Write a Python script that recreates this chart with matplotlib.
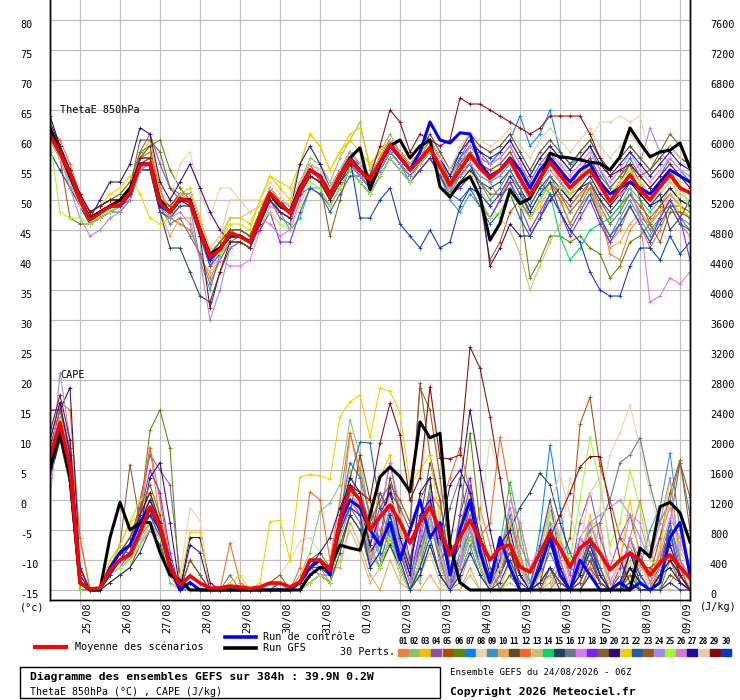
import numpy as np
import matplotlib
matplotlib.use("Agg")
import matplotlib.pyplot as plt
from matplotlib.lines import Line2D
from matplotlib.patches import Rectangle

plt.rcParams['font.family'] = ['DejaVu Sans Mono', 'DejaVu Sans']

# echeances GEFS (h) depuis le 24/08 06Z
hours = np.arange(0, 385, 6)
day_labels = ["25/08", "26/08", "27/08", "28/08", "29/08", "30/08", "31/08", "01/09",
              "02/09", "03/09", "04/09", "05/09", "06/09", "07/09", "08/09", "09/09"]
theta_ticks = list(range(-15, 81, 5))
cape_ticks = list(range(0, 7601, 400))

# ThetaE 850hPa (degC) - moyenne, controle, GFS
theta_mean = [60.8, 57.8, 54.5, 50.0, 46.7, 47.8, 48.9, 49.2, 51.2, 55.8, 56.1, 49.4, 48.0, 50.3, 49.7, 45.0, 40.5, 41.7, 44.5, 43.9, 43.0, 47.2, 51.2, 49.4, 47.8, 51.7, 55.0, 53.9, 50.8, 54.2, 56.7, 54.8, 53.4, 56.3, 59.2, 57.2, 55.0, 56.7, 58.7, 55.5, 52.5, 55.0, 57.5, 55.3, 53.6, 55.0, 56.7, 53.6, 50.8, 53.6, 56.3, 54.2, 52.0, 53.6, 55.0, 52.5, 49.7, 52.0, 54.2, 51.7, 50.0, 52.2, 54.2, 52.0, 51.2]
theta_control = [61, 58, 54, 50, 47, 48, 49, 49, 51, 56, 56, 49, 48, 50, 50, 45, 40, 42, 44, 44, 43, 47, 51, 49, 48, 52, 55, 54, 51, 54, 57, 55, 53, 56, 59, 57, 55, 58, 63, 60, 59.5, 61.2, 61, 56, 54, 55, 57, 55, 52, 55, 57, 55, 53, 55, 56, 53, 51, 52, 53, 52, 51, 53, 55, 54, 53]
theta_gfs = [62, 58, 54, 50, 47, 48, 49, 50, 52, 56, 56, 50, 48, 50, 50, 45, 41, 42, 44, 44, 43, 47, 51, 49, 48, 52, 55, 54, 51, 54, 57, 58.7, 51.7, 56, 59, 60, 57, 59, 60, 52.2, 50.5, 52.8, 53.9, 50.5, 43.3, 46.1, 51.7, 49.4, 50.3, 53.3, 57.8, 57.2, 57, 56.7, 56.3, 56.1, 55, 57.2, 62, 59.5, 57.2, 58, 58.3, 59.5, 55.3]

# ThetaE des 30 perturbations
th01 = [62, 59, 55, 51, 48, 49, 50, 50, 52, 57, 57, 50, 49, 51, 50, 44, 39, 42, 45, 45, 44, 48, 52, 50, 49, 53, 56, 55, 52, 55, 58, 56, 54, 57, 60, 57, 56, 58, 60, 57, 53, 56, 58, 56, 55, 56, 58, 55, 52, 55, 57, 53, 51, 52, 53, 48, 41, 40, 45, 47, 46, 49, 52, 50, 49]
th02 = [60, 57, 54, 50, 47, 48, 49, 50, 52, 57, 58, 51, 49, 51, 51, 46, 41, 43, 45, 45, 44, 48, 52, 50, 49, 53, 57, 56, 53, 57, 60, 63, 55, 58, 61, 58, 56, 58, 60, 57, 53, 57, 59, 57, 56, 58, 60, 57, 54, 57, 59, 57, 55, 58, 60, 57, 55, 57, 59, 57, 55, 57, 59, 57, 56]
th03 = [61, 58, 55, 51, 48, 49, 50, 51, 53, 57, 60, 52, 47, 51, 52, 47, 42, 44, 47, 47, 46, 50, 54, 52, 50, 56, 61, 59, 55, 58, 60, 58, 56, 58, 60, 58, 57, 59, 60, 57, 54, 52, 54, 50, 47, 50, 53, 50, 47, 49, 52, 50, 48, 50, 52, 48, 46, 48, 51, 48, 46, 48, 50, 48, 47]
th04 = [61, 58, 54, 50, 47, 48, 49, 49, 51, 58, 61, 56, 52, 51, 51, 46, 41, 43, 45, 45, 44, 48, 50, 47, 46, 51, 54, 53, 50, 53, 56, 54, 52, 55, 58, 56, 54, 56, 58, 55, 51, 57, 60, 58, 56, 57, 59, 56, 53, 56, 58, 55, 52, 55, 57, 53, 50, 53, 56, 53, 50, 53, 55, 52, 51]
th05 = [60, 57, 53, 49, 46, 47, 48, 49, 50, 55, 55, 48, 47, 49, 49, 44, 40, 42, 44, 44, 43, 47, 51, 49, 48, 52, 55, 54, 51, 54, 57, 55, 53, 56, 59, 57, 55, 57, 59, 56, 51, 53, 54, 50, 40, 43, 48, 50, 47, 50, 53, 51, 49, 51, 53, 50, 47, 49, 51, 49, 47, 49, 51, 49, 48]
th06 = [61, 58, 55, 51, 48, 49, 50, 51, 53, 58, 59, 60, 55, 52, 50, 45, 41, 43, 45, 44, 43, 47, 50, 48, 47, 51, 54, 53, 50, 53, 56, 54, 52, 55, 58, 56, 54, 56, 58, 55, 51, 53, 55, 53, 51, 51, 52, 49, 37, 40, 44, 44, 43, 44, 42, 41, 37, 39, 43, 44, 46, 48, 49, 49, 47]
th07 = [61, 58, 54, 50, 47, 48, 49, 49, 51, 56, 57, 50, 48, 50, 50, 45, 41, 42, 44, 44, 43, 47, 52, 50, 48, 53, 56, 55, 52, 55, 58, 56, 54, 57, 60, 58, 56, 58, 60, 57, 54, 57, 59, 57, 56, 58, 60, 64, 59, 61, 65, 58, 56, 57, 59, 55, 52, 54, 57, 54, 52, 54, 57, 55, 53]
th08 = [60, 57, 54, 50, 47, 48, 49, 50, 52, 57, 57, 51, 50, 56, 58, 51, 47, 52, 52, 50, 50, 50, 53, 51, 49, 53, 56, 55, 52, 55, 58, 56, 54, 57, 60, 58, 56, 58, 60, 57, 53, 56, 58, 56, 55, 56, 58, 55, 52, 55, 57, 56, 55, 57, 60, 63, 63, 64, 63, 64, 57, 56, 57, 55, 54]
th09 = [62, 59, 55, 50, 46, 47, 48, 49, 51, 55, 56, 49, 48, 50, 49, 40, 35, 41, 43, 43, 42, 46, 50, 48, 47, 51, 54, 53, 50, 53, 56, 54, 52, 55, 58, 56, 53, 55, 57, 54, 50, 48, 51, 49, 47, 50, 53, 50, 47, 50, 53, 50, 46, 49, 51, 47, 44, 47, 50, 47, 44, 47, 50, 47, 46]
th10 = [60, 57, 53, 49, 46, 47, 48, 49, 51, 55, 55, 48, 44, 47, 47, 40, 38, 40, 43, 43, 42, 46, 50, 48, 47, 51, 54, 53, 50, 53, 56, 54, 52, 55, 58, 56, 54, 56, 58, 55, 52, 55, 57, 55, 54, 55, 57, 54, 51, 54, 56, 53, 50, 51, 52, 48, 42, 43, 46, 48, 46, 48, 51, 49, 47]
th11 = [61, 58, 54, 50, 47, 48, 49, 49, 51, 57, 59, 50, 49, 51, 51, 46, 41, 43, 45, 45, 44, 48, 52, 50, 48, 52, 55, 54, 51, 54, 57, 56, 54, 57, 60, 58, 56, 58, 61, 58, 55, 58, 61, 59, 58, 59, 61, 58, 55, 58, 60, 58, 56, 58, 60, 57, 55, 57, 59, 57, 55, 57, 59, 57, 56]
th12 = [62, 60, 56, 51, 48, 49, 50, 50, 52, 57, 58, 52, 47, 46, 45, 41, 37, 40, 43, 43, 42, 46, 50, 48, 47, 51, 54, 53, 50, 53, 56, 54, 53, 56, 59, 57, 55, 57, 60, 57, 53, 56, 59, 57, 53, 50, 54, 52, 47, 50, 53, 50, 46, 49, 52, 47, 43, 45, 49, 46, 42, 45, 49, 46, 44]
th13 = [61, 58, 54, 50, 47, 48, 49, 49, 51, 56, 56, 49, 48, 50, 50, 45, 40, 43, 47, 47, 48, 49, 51, 49, 48, 52, 55, 54, 51, 54, 57, 55, 53, 56, 59, 57, 55, 57, 59, 56, 52, 54, 55, 52, 49, 47, 45, 41, 35, 39, 43, 46, 48, 50, 53, 51, 49, 51, 53, 51, 49, 51, 53, 51, 50]
th14 = [60, 57, 53, 49, 47, 48, 49, 49, 51, 56, 57, 50, 48, 50, 50, 45, 41, 43, 45, 45, 44, 48, 51, 48, 45, 47, 52, 52, 49, 52, 55, 53, 51, 54, 57, 55, 53, 55, 57, 54, 51, 54, 56, 54, 53, 54, 56, 53, 50, 53, 51, 44, 40, 42, 45, 46, 47, 49, 52, 50, 48, 50, 52, 50, 49]
th15 = [58, 55, 52, 49, 46, 47, 48, 49, 51, 55, 55, 48, 42, 42, 38, 34, 33, 38, 42, 43, 42, 46, 50, 48, 47, 51, 54, 53, 50, 53, 55, 53, 51, 54, 57, 55, 53, 55, 57, 54, 51, 53, 55, 53, 52, 53, 55, 52, 49, 52, 54, 52, 50, 52, 53, 50, 48, 50, 53, 51, 49, 51, 45, 47, 50]
th16 = [61, 58, 54, 50, 47, 48, 49, 50, 52, 56, 56, 49, 46, 47, 44, 41, 36, 40, 43, 44, 43, 47, 51, 49, 48, 52, 55, 54, 52, 55, 57, 55, 53, 56, 59, 57, 55, 57, 59, 56, 53, 55, 56, 53, 50, 52, 55, 52, 48, 51, 54, 51, 48, 50, 53, 49, 46, 48, 51, 48, 45, 47, 50, 47, 45]
th17 = [61, 58, 54, 50, 47, 48, 49, 49, 51, 56, 56, 49, 48, 50, 49, 44, 39, 40, 39, 39, 40, 45, 49, 48, 47, 51, 54, 53, 50, 53, 56, 54, 52, 55, 58, 56, 54, 56, 58, 55, 52, 56, 59, 57, 56, 57, 59, 56, 52, 55, 58, 56, 54, 56, 58, 55, 53, 55, 58, 55, 53, 55, 57, 55, 54]
th18 = [61, 58, 54, 50, 47, 48, 49, 49, 51, 56, 56, 49, 48, 50, 50, 45, 41, 42, 44, 44, 43, 45, 48, 43, 43, 48, 52, 51, 49, 52, 55, 53, 51, 54, 57, 55, 53, 55, 57, 54, 51, 52, 54, 50, 47, 50, 53, 49, 45, 48, 51, 48, 44, 47, 50, 46, 43, 46, 49, 46, 43, 47, 50, 47, 40]
th19 = [60, 57, 54, 50, 47, 48, 49, 50, 52, 60, 60, 58, 52, 50, 50, 45, 40, 42, 44, 44, 43, 47, 51, 49, 48, 52, 55, 54, 51, 54, 57, 55, 53, 56, 59, 57, 55, 57, 59, 56, 52, 55, 57, 55, 54, 55, 57, 54, 51, 54, 56, 54, 52, 54, 56, 53, 51, 53, 56, 54, 55, 58, 61, 59, 56]
th20 = [64, 59, 55, 50, 47, 50, 53, 53, 56, 62, 61, 53, 50, 53, 56, 52, 48, 45, 43, 43, 42, 46, 50, 48, 47, 51, 54, 53, 50, 53, 56, 54, 52, 55, 58, 56, 54, 56, 58, 55, 52, 54, 56, 52, 39, 42, 46, 44, 44, 47, 50, 52, 50, 52, 54, 51, 49, 51, 53, 51, 49, 50, 52, 50, 49]
th21 = [61, 58, 54, 51, 48, 49, 51, 52, 54, 51, 47, 46, 47, 50, 50, 45, 41, 43, 46, 46, 45, 50, 54, 53, 52, 56, 61, 59, 55, 58, 61, 62, 56, 58, 60, 58, 56, 58, 60, 57, 53, 55, 57, 55, 54, 55, 57, 54, 51, 54, 56, 54, 52, 54, 56, 53, 51, 53, 55, 53, 51, 53, 55, 49, 47]
th22 = [60, 57, 53, 49, 46, 47, 48, 48, 50, 55, 55, 48, 47, 49, 49, 44, 39, 41, 43, 43, 42, 46, 50, 48, 47, 51, 52, 51, 48, 51, 54, 54, 52, 55, 58, 56, 54, 56, 58, 55, 51, 50, 52, 49, 46, 48, 51, 47, 44, 47, 51, 48, 45, 48, 51, 47, 44, 46, 49, 46, 43, 46, 49, 46, 45]
th23 = [61, 57, 47, 46, 46, 47, 48, 49, 51, 56, 57, 50, 49, 51, 51, 46, 41, 43, 45, 45, 44, 48, 52, 50, 49, 53, 56, 53, 44, 50, 56, 56, 54, 57, 60, 58, 56, 58, 60, 57, 53, 56, 58, 56, 55, 56, 58, 55, 52, 55, 57, 55, 53, 55, 57, 54, 52, 54, 56, 50, 46, 43, 48, 48, 47]
th24 = [61, 57, 52, 47, 44, 45, 47, 48, 50, 55, 56, 49, 47, 48, 46, 40, 30, 35, 42, 43, 42, 46, 50, 48, 47, 51, 54, 53, 50, 53, 56, 54, 52, 55, 58, 56, 54, 56, 58, 55, 52, 54, 56, 54, 53, 54, 56, 53, 50, 53, 55, 53, 51, 53, 55, 52, 50, 52, 54, 56, 62, 58, 56, 54, 52]
th25 = [60, 48, 47, 47, 46, 47, 48, 49, 51, 56, 56, 49, 48, 50, 50, 45, 41, 41, 43, 43, 42, 46, 48, 46, 45, 49, 53, 52, 49, 52, 55, 53, 51, 54, 57, 55, 53, 56, 58, 55, 51, 53, 54, 50, 47, 48, 51, 49, 47, 50, 53, 52, 51, 53, 56, 53, 51, 53, 55, 53, 51, 53, 55, 53, 48]
th26 = [61, 58, 54, 50, 47, 48, 49, 49, 51, 56, 56, 49, 48, 50, 50, 45, 41, 42, 44, 44, 43, 47, 46, 44, 45, 50, 55, 54, 51, 54, 57, 55, 53, 56, 59, 57, 55, 57, 59, 56, 52, 55, 57, 55, 54, 55, 57, 54, 51, 54, 56, 54, 52, 54, 55, 52, 50, 51, 52, 47, 33, 34, 37, 36, 38]
th27 = [63, 59, 55, 51, 48, 49, 50, 50, 52, 57, 57, 50, 48, 50, 50, 45, 40, 42, 44, 44, 43, 47, 51, 49, 48, 56, 59, 56, 52, 55, 58, 56, 54, 57, 60, 58, 56, 58, 60, 57, 54, 58, 60, 58, 57, 58, 60, 57, 54, 57, 59, 57, 55, 57, 59, 56, 54, 56, 58, 56, 54, 56, 58, 56, 55]
th28 = [60, 57, 53, 49, 47, 48, 49, 50, 52, 57, 57, 50, 48, 51, 51, 46, 42, 44, 50, 50, 48, 49, 52, 50, 49, 53, 56, 55, 52, 55, 58, 56, 54, 57, 60, 58, 56, 58, 60, 57, 55, 59, 61, 60, 59, 60, 62, 59, 57, 60, 62, 60, 58, 60, 62, 59, 57, 59, 61, 59, 57, 58, 59, 57, 55]
th29 = [62, 59, 55, 51, 48, 49, 50, 50, 52, 57, 57, 50, 48, 50, 49, 44, 32, 38, 43, 43, 42, 46, 50, 48, 47, 51, 54, 53, 50, 53, 56, 55, 54, 59, 65, 63, 58, 61, 60, 59, 60, 67, 66, 66, 65, 64, 63, 62, 61, 62, 64, 64, 64, 64, 61, 57, 54, 55, 56, 54, 52, 54, 56, 54, 52]
th30 = [61, 58, 54, 50, 47, 48, 49, 49, 51, 56, 56, 49, 48, 50, 50, 45, 40, 42, 44, 44, 43, 47, 51, 49, 48, 52, 55, 54, 51, 54, 57, 47, 47, 50, 52, 46, 44, 42, 45, 42, 43, 49, 52, 51, 49, 51, 54, 51, 48, 51, 53, 48, 45, 43, 38, 35, 34, 34, 39, 42, 42, 40, 44, 41, 43]

# CAPE (J/kg) - moyenne, controle, GFS
cape_mean = [1773, 2227, 1640, 93, 13, 27, 267, 400, 467, 760, 1107, 840, 307, 67, 187, 93, 27, 27, 53, 40, 20, 40, 93, 93, 40, 107, 400, 400, 267, 933, 1360, 1200, 800, 973, 1133, 907, 627, 907, 1107, 800, 467, 707, 933, 667, 400, 560, 600, 307, 240, 493, 760, 560, 307, 560, 667, 493, 267, 400, 493, 400, 200, 360, 467, 307, 160]
cape_control = [1700, 2200, 1500, 100, 0, 0, 300, 500, 600, 900, 1100, 800, 300, 0, 100, 0, 0, 0, 0, 0, 0, 0, 0, 0, 0, 100, 300, 400, 200, 900, 1200, 1100, 800, 600, 900, 400, 800, 1200, 700, 900, 200, 800, 1200, 500, 100, 700, 300, 0, 0, 300, 700, 200, 0, 400, 200, 0, 0, 100, 0, 100, 0, 100, 700, 900, 200]
cape_gfs = [1600, 2100, 1500, 100, 0, 0, 700, 1170, 800, 900, 900, 500, 200, 130, 0, 0, 0, 0, 0, 0, 0, 0, 0, 0, 0, 0, 200, 300, 300, 600, 560, 530, 1000, 1510, 1640, 1510, 1310, 2240, 2030, 2090, 600, 100, 0, 0, 0, 0, 0, 0, 0, 0, 0, 0, 0, 0, 0, 0, 0, 0, 0, 560, 440, 1110, 1170, 1030, 640]

# CAPE des 30 perturbations
cp01 = [1900, 2400, 2000, 700, 0, 0, 200, 500, 700, 900, 1900, 900, 200, 0, 100, 0, 0, 0, 0, 0, 0, 0, 0, 0, 0, 100, 200, 300, 100, 800, 2100, 1500, 600, 300, 900, 400, 0, 300, 1200, 600, 0, 100, 500, 1100, 600, 0, 200, 900, 300, 0, 0, 400, 0, 0, 300, 900, 100, 0, 700, 1200, 600, 0, 100, 300, 0]
cp02 = [1600, 2300, 1500, 0, 0, 0, 300, 400, 600, 1100, 1300, 700, 100, 0, 100, 0, 0, 0, 0, 0, 0, 0, 100, 0, 0, 200, 500, 1050, 1160, 1400, 2270, 1800, 900, 700, 1300, 800, 300, 100, 900, 400, 0, 300, 1000, 400, 0, 0, 200, 0, 0, 0, 100, 300, 0, 200, 800, 300, 0, 0, 100, 0, 0, 200, 600, 200, 0]
cp03 = [1800, 2200, 1700, 200, 0, 0, 400, 600, 900, 1000, 1200, 800, 300, 0, 200, 100, 0, 0, 0, 0, 0, 0, 0, 100, 0, 0, 200, 300, 200, 1000, 1600, 1100, 500, 1500, 1800, 900, 200, 600, 1000, 300, 0, 900, 1300, 500, 0, 0, 400, 0, 0, 200, 800, 200, 0, 300, 500, 100, 0, 0, 400, 0, 0, 600, 1200, 400, 100]
cp04 = [1700, 2100, 1900, 300, 0, 0, 200, 300, 500, 1200, 1800, 1600, 1400, 200, 0, 0, 0, 0, 0, 0, 0, 0, 0, 0, 0, 0, 300, 200, 100, 700, 1100, 900, 300, 1000, 1700, 1000, 400, 1200, 1500, 400, 100, 800, 1400, 600, 100, 500, 1000, 400, 100, 500, 1100, 600, 200, 900, 1300, 700, 300, 700, 1000, 500, 100, 300, 900, 400, 100]
cp05 = [1500, 2000, 1600, 0, 0, 0, 100, 200, 300, 600, 900, 700, 200, 0, 100, 0, 0, 0, 0, 0, 0, 0, 0, 0, 0, 0, 100, 200, 100, 700, 1200, 1000, 500, 300, 700, 300, 0, 200, 600, 200, 0, 300, 700, 300, 0, 200, 500, 200, 0, 100, 200, 400, 700, 2210, 2570, 1650, 1200, 700, 500, 300, 300, 400, 900, 1700, 1240]
cp06 = [1800, 2300, 1500, 0, 0, 0, 200, 400, 600, 1000, 2130, 2400, 1890, 0, 0, 0, 0, 0, 0, 0, 0, 0, 0, 0, 0, 0, 100, 200, 200, 600, 1000, 800, 300, 500, 1100, 700, 200, 600, 1400, 700, 200, 1000, 2090, 900, 300, 0, 200, 0, 0, 0, 300, 100, 0, 0, 200, 0, 0, 0, 300, 0, 0, 0, 400, 100, 0]
cp07 = [1600, 2200, 1400, 0, 0, 0, 300, 500, 500, 800, 1000, 700, 300, 0, 200, 100, 0, 0, 0, 0, 0, 0, 100, 100, 0, 100, 300, 400, 300, 1000, 1700, 1500, 1000, 600, 900, 500, 100, 500, 900, 400, 0, 400, 800, 300, 0, 300, 800, 200, 0, 800, 1930, 1100, 300, 200, 600, 300, 0, 0, 500, 200, 0, 200, 900, 300, 0]
cp08 = [1700, 2200, 1600, 100, 0, 0, 300, 400, 500, 700, 1000, 700, 300, 200, 1090, 930, 0, 0, 0, 0, 0, 0, 100, 200, 400, 650, 700, 500, 300, 800, 1200, 1000, 700, 1100, 1300, 1200, 900, 1200, 2750, 1400, 700, 900, 1000, 900, 2010, 1500, 600, 400, 300, 200, 0, 600, 1500, 1000, 700, 1100, 1800, 2100, 2470, 1900, 1300, 800, 500, 300, 200]
cp09 = [1900, 2400, 1800, 200, 0, 0, 300, 500, 600, 900, 1100, 800, 300, 0, 100, 0, 0, 0, 0, 0, 0, 0, 0, 0, 0, 100, 400, 300, 200, 900, 1400, 1300, 900, 400, 800, 300, 0, 400, 1000, 500, 0, 200, 600, 200, 0, 400, 1000, 400, 0, 300, 900, 300, 0, 100, 500, 100, 0, 200, 700, 300, 800, 1100, 1830, 800, 300]
cp10 = [1700, 2100, 1600, 100, 0, 0, 200, 300, 400, 700, 1000, 800, 200, 0, 100, 0, 0, 0, 0, 0, 0, 0, 100, 0, 0, 100, 400, 500, 300, 300, 900, 600, 200, 0, 400, 100, 0, 0, 200, 0, 0, 0, 300, 0, 0, 0, 0, 0, 0, 0, 200, 0, 0, 0, 0, 0, 0, 0, 0, 0, 0, 0, 100, 0, 0]
cp11 = [1800, 2300, 1700, 100, 0, 0, 300, 500, 700, 1000, 1300, 900, 300, 0, 400, 200, 0, 0, 0, 0, 0, 0, 0, 100, 0, 100, 300, 300, 200, 600, 1000, 1800, 1200, 600, 1500, 1000, 400, 900, 1700, 1200, 300, 600, 1100, 700, 100, 300, 900, 400, 0, 100, 600, 300, 0, 0, 300, 100, 0, 100, 300, 100, 0, 0, 200, 100, 0]
cp12 = [2000, 2500, 2400, 700, 0, 0, 200, 400, 600, 1100, 1900, 1200, 400, 0, 200, 100, 0, 0, 630, 100, 0, 0, 0, 0, 0, 300, 1310, 1200, 400, 1200, 2100, 1600, 1000, 800, 600, 300, 0, 400, 1300, 1100, 1500, 1900, 1300, 700, 900, 2040, 1300, 600, 300, 0, 0, 200, 0, 0, 300, 0, 0, 0, 200, 0, 0, 300, 700, 300, 0]
cp13 = [1600, 2100, 1500, 0, 0, 0, 200, 300, 400, 600, 800, 600, 200, 0, 100, 0, 0, 0, 0, 0, 0, 0, 0, 0, 0, 0, 100, 200, 100, 400, 800, 500, 100, 300, 600, 200, 0, 200, 500, 100, 0, 0, 200, 0, 0, 0, 100, 0, 0, 0, 0, 0, 0, 0, 200, 0, 0, 0, 0, 0, 0, 0, 0, 0, 0]
cp14 = [1800, 2200, 1700, 100, 0, 0, 300, 400, 500, 900, 1200, 900, 300, 0, 100, 0, 0, 0, 0, 0, 0, 0, 100, 100, 0, 100, 400, 500, 300, 1000, 1400, 1200, 800, 500, 1000, 600, 200, 700, 1200, 500, 0, 400, 900, 500, 100, 600, 1440, 800, 100, 300, 700, 300, 0, 200, 500, 200, 0, 0, 300, 0, 0, 300, 500, 200, 0]
cp15 = [1500, 2000, 1400, 0, 0, 0, 100, 200, 300, 500, 800, 600, 200, 0, 0, 0, 0, 0, 0, 0, 0, 0, 0, 0, 0, 0, 100, 200, 100, 500, 1000, 800, 500, 300, 600, 300, 0, 200, 600, 200, 0, 300, 700, 300, 0, 400, 800, 1100, 1300, 1560, 1400, 900, 500, 200, 500, 200, 0, 0, 300, 100, 0, 200, 400, 200, 0]
cp16 = [1700, 2200, 1600, 100, 0, 0, 200, 400, 500, 800, 1000, 800, 300, 0, 100, 0, 0, 0, 200, 0, 0, 0, 0, 0, 0, 100, 300, 400, 200, 800, 1200, 1100, 500, 300, 700, 300, 0, 300, 900, 600, 1100, 1500, 800, 400, 100, 300, 700, 300, 0, 200, 500, 200, 0, 500, 800, 900, 1200, 1700, 1800, 2030, 1400, 900, 1200, 1700, 1000]
cp17 = [1200, 2500, 1800, 200, 0, 0, 300, 500, 400, 600, 800, 700, 300, 0, 100, 0, 0, 0, 0, 0, 0, 0, 0, 0, 0, 0, 100, 200, 200, 700, 1100, 1000, 400, 1000, 1700, 1100, 300, 700, 1200, 600, 0, 400, 1000, 500, 0, 300, 1200, 900, 300, 600, 1200, 700, 100, 500, 900, 500, 100, 400, 1000, 900, 400, 700, 1100, 600, 300]
cp18 = [1800, 2300, 1700, 200, 0, 0, 200, 400, 600, 1000, 1600, 1300, 500, 0, 100, 0, 0, 0, 0, 0, 0, 0, 0, 0, 0, 100, 300, 300, 200, 800, 1300, 1100, 600, 1300, 1000, 500, 100, 800, 1300, 400, 0, 1000, 1500, 600, 0, 200, 700, 200, 0, 300, 800, 300, 0, 700, 500, 100, 0, 300, 600, 200, 0, 300, 800, 100, 0]
cp19 = [1700, 2200, 1600, 100, 0, 0, 300, 600, 1670, 900, 1200, 800, 300, 0, 200, 100, 0, 0, 0, 0, 0, 0, 0, 0, 0, 0, 200, 300, 200, 700, 1200, 1000, 700, 1100, 1300, 1100, 800, 2760, 1800, 1200, 300, 600, 1200, 500, 0, 200, 600, 200, 0, 300, 800, 200, 0, 200, 700, 300, 0, 200, 700, 300, 200, 700, 1300, 1730, 800]
cp20 = [2400, 2400, 2700, 300, 0, 0, 200, 400, 500, 800, 1500, 1700, 900, 0, 700, 700, 100, 0, 0, 0, 0, 0, 0, 0, 0, 100, 300, 500, 700, 1100, 1400, 1200, 500, 700, 1400, 600, 200, 1300, 1500, 400, 600, 1400, 2400, 1600, 800, 200, 500, 200, 0, 100, 300, 100, 0, 100, 400, 100, 0, 0, 300, 100, 0, 200, 300, 100, 0]
cp21 = [1800, 2300, 1700, 200, 0, 0, 300, 600, 900, 1200, 1300, 900, 300, 100, 770, 770, 0, 0, 100, 200, 0, 100, 910, 930, 400, 1510, 1540, 1520, 1480, 2310, 2510, 2600, 2040, 2690, 2650, 2360, 1400, 1600, 1800, 900, 300, 800, 1200, 700, 100, 300, 900, 400, 0, 200, 1100, 600, 0, 300, 1000, 500, 0, 400, 1200, 400, 0, 500, 1500, 500, 300]
cp22 = [1700, 2200, 1600, 100, 0, 0, 200, 400, 500, 800, 1000, 700, 200, 0, 100, 0, 0, 0, 0, 0, 0, 0, 0, 0, 0, 0, 200, 300, 200, 900, 1500, 1970, 1960, 1100, 700, 300, 0, 600, 1000, 400, 0, 500, 900, 300, 0, 200, 700, 300, 0, 600, 1200, 400, 0, 300, 700, 200, 0, 100, 500, 200, 0, 300, 800, 200, 0]
cp23 = [1900, 2400, 1900, 300, 0, 0, 300, 500, 700, 1100, 1400, 1000, 400, 0, 400, 200, 0, 0, 0, 0, 0, 0, 100, 200, 0, 100, 300, 400, 300, 900, 1300, 1100, 900, 1200, 1400, 1200, 900, 2700, 2400, 1500, 500, 300, 700, 300, 0, 200, 500, 200, 0, 0, 300, 100, 0, 100, 400, 100, 0, 0, 200, 0, 0, 200, 600, 200, 0]
cp24 = [1400, 2900, 2000, 300, 0, 0, 200, 300, 400, 700, 900, 700, 200, 0, 100, 0, 0, 0, 0, 0, 0, 0, 0, 0, 0, 100, 200, 300, 200, 700, 1100, 1000, 400, 600, 1100, 600, 100, 700, 1300, 600, 100, 500, 1000, 400, 0, 500, 1100, 500, 0, 400, 900, 700, 300, 700, 900, 1000, 1100, 1200, 1000, 700, 400, 900, 1500, 400, 200]
cp25 = [1600, 2100, 1400, 0, 0, 0, 200, 300, 400, 600, 900, 700, 200, 0, 0, 0, 0, 0, 0, 0, 0, 0, 0, 0, 0, 0, 100, 200, 100, 700, 1200, 1100, 500, 300, 700, 300, 0, 400, 900, 500, 0, 300, 700, 300, 0, 300, 700, 300, 0, 300, 1000, 700, 400, 1200, 2040, 1400, 600, 900, 1600, 1100, 400, 300, 500, 300, 200]
cp26 = [1600, 2200, 1700, 200, 0, 0, 300, 400, 500, 800, 1100, 800, 300, 0, 100, 0, 0, 0, 0, 0, 0, 0, 0, 0, 0, 0, 200, 300, 200, 800, 1200, 1000, 400, 700, 1300, 600, 100, 500, 1000, 400, 0, 300, 800, 400, 0, 200, 700, 300, 0, 300, 800, 400, 0, 300, 900, 500, 100, 200, 700, 400, 100, 500, 960, 700, 300]
cp27 = [2000, 2500, 1800, 200, 0, 0, 300, 500, 600, 900, 1200, 900, 400, 0, 600, 500, 0, 0, 0, 0, 0, 0, 0, 0, 0, 100, 300, 400, 300, 1000, 1500, 1300, 600, 1000, 1300, 700, 300, 1000, 1200, 700, 1400, 1600, 1300, 700, 200, 600, 800, 200, 0, 400, 800, 300, 0, 200, 600, 200, 0, 100, 500, 100, 0, 300, 600, 200, 0]
cp28 = [1700, 2200, 1600, 100, 0, 0, 300, 400, 600, 900, 1100, 800, 300, 0, 100, 0, 0, 0, 0, 0, 0, 0, 100, 100, 0, 100, 300, 400, 200, 900, 1300, 1100, 700, 1000, 1200, 1000, 600, 900, 1100, 800, 300, 500, 900, 400, 0, 300, 700, 300, 0, 500, 1100, 1560, 1000, 600, 1300, 1500, 500, 200, 600, 300, 0, 300, 500, 300, 100]
cp29 = [2100, 2600, 2000, 300, 0, 0, 200, 400, 600, 1000, 1300, 900, 300, 0, 100, 0, 0, 0, 0, 0, 0, 0, 0, 0, 0, 100, 300, 400, 300, 900, 1400, 1300, 1200, 1960, 2490, 2070, 1200, 1500, 2710, 1760, 1750, 1800, 3240, 2960, 2310, 1500, 600, 0, 0, 300, 700, 1000, 1300, 1640, 1780, 1780, 1100, 400, 100, 0, 0, 200, 400, 200, 0]
cp30 = [1700, 2200, 1600, 100, 0, 0, 200, 400, 500, 800, 1000, 800, 300, 0, 100, 0, 0, 0, 0, 0, 0, 0, 0, 0, 0, 0, 200, 300, 200, 800, 1100, 1000, 300, 500, 1000, 400, 0, 300, 700, 200, 0, 200, 500, 200, 0, 100, 400, 100, 0, 100, 300, 0, 0, 0, 200, 0, 0, 0, 100, 0, 0, 0, 100, 0, 0]

theta_perts = [th01, th02, th03, th04, th05, th06, th07, th08, th09, th10,
               th11, th12, th13, th14, th15, th16, th17, th18, th19, th20,
               th21, th22, th23, th24, th25, th26, th27, th28, th29, th30]
cape_perts = [cp01, cp02, cp03, cp04, cp05, cp06, cp07, cp08, cp09, cp10,
              cp11, cp12, cp13, cp14, cp15, cp16, cp17, cp18, cp19, cp20,
              cp21, cp22, cp23, cp24, cp25, cp26, cp27, cp28, cp29, cp30]

pert_colors = ["#e8843c", "#88c46c", "#f0c000", "#9050a8", "#b04c08", "#588808",
               "#0880f8", "#e8d4b0", "#4090c0", "#e8a858", "#604c20", "#f86820",
               "#d0bc78", "#00d860", "#204058", "#687880", "#e078f8", "#8020f8",
               "#806030", "#300870", "#f0d000", "#2060a0", "#905c20", "#a088e8",
               "#a0f830", "#d878d8", "#200ca0", "#e0ccaa", "#880808", "#0838c0"]

W, H = 740, 700


def fx(x):
    return x / W


def fy(y):
    return 1 - y / H


fig = plt.figure(figsize=(W / 100, H / 100), dpi=100)
ax = fig.add_axes([fx(50), fy(600), 640 / W, 600 / H])
ylo, yhi = -15 - 10 / 6, 80 + 20 / 6
ax.set_xlim(0, 384)
ax.set_ylim(ylo, yhi)
ax2 = ax.twinx()
ax2.set_ylim((ylo + 15) * 80, (yhi + 15) * 80)

# grille
day_hours = [18 + 24 * k for k in range(len(day_labels))]
ax.set_xticks(day_hours)
ax.set_xticklabels([])
ax.set_yticks(theta_ticks)
ax.set_yticklabels([str(v) for v in theta_ticks], fontsize=7.3)
ax.grid(True, color="#c0c0c0", lw=0.9)
ax.set_axisbelow(True)
ax.tick_params(axis="x", length=4, color="#c0c0c0", width=0.9)
ax.tick_params(axis="y", length=0, pad=21.6)
plt.setp(ax.get_yticklabels(), ha="left", va="top")

ax2.set_yticks(cape_ticks)
ax2.set_yticklabels([str(v) for v in cape_ticks], fontsize=7.3)
ax2.tick_params(axis="y", length=0, pad=14.4)
plt.setp(ax2.get_yticklabels(), va="top")

for a in (ax, ax2):
    a.spines["top"].set_visible(False)
    for s in ("left", "right", "bottom"):
        a.spines[s].set_color("black")
        a.spines[s].set_linewidth(1.0)

# perturbations
for vals, col in zip(theta_perts, pert_colors):
    ax.plot(hours, vals, color=col, lw=0.75, marker="+", ms=2.6, mew=0.6)
for vals, col in zip(cape_perts, pert_colors):
    ax2.plot(hours, vals, color=col, lw=0.75, marker="+", ms=2.6, mew=0.6)

# controle, GFS, moyenne
ax.plot(hours, theta_control, color="#0000ff", lw=2.2)
ax.plot(hours, theta_gfs, color="black", lw=2.2)
ax.plot(hours, theta_mean, color="#ff0000", lw=2.6)
ax2.plot(hours, cape_control, color="#0000ff", lw=2.2)
ax2.plot(hours, cape_gfs, color="black", lw=2.2)
ax2.plot(hours, cape_mean, color="#ff0000", lw=2.6)

# dates
for h, lab in zip(day_hours, day_labels):
    ax.text(h + 4.3, -0.004, lab, transform=ax.get_xaxis_transform(), rotation=90,
            ha="center", va="top", fontsize=7.3)

fig.text(fx(60), fy(110), "ThetaE 850hPa", fontsize=7.3, va="center")
fig.text(fx(60), fy(375), "CAPE", fontsize=7.3, va="center")
fig.text(fx(20), fy(607), "(°c)", fontsize=7.3, va="center")
fig.text(fx(700), fy(607), "(J/kg)", fontsize=7.3, va="center")

# legende
fig.add_artist(Line2D([fx(35), fx(66)], [fy(647), fy(647)], color="#ff0000", lw=3.0))
fig.text(fx(75), fy(647), "Moyenne des scénarios", fontsize=7.3, va="center")
fig.add_artist(Line2D([fx(225), fx(256)], [fy(637), fy(637)], color="#0000ff", lw=2.6))
fig.add_artist(Line2D([fx(225), fx(256)], [fy(648), fy(648)], color="black", lw=2.6))
fig.text(fx(263), fy(637), "Run de contrôle", fontsize=7.3, va="center")
fig.text(fx(263), fy(648), "Run GFS", fontsize=7.3, va="center")
fig.text(fx(340), fy(652), "30 Perts.", fontsize=7.3, va="center")
for k, col in enumerate(pert_colors):
    x0 = 398 + 11.13 * k
    fig.add_artist(Rectangle((fx(x0), fy(656)), 10 / W, 7 / H, color=col,
                             transform=fig.transFigure))
    fig.text(fx(x0 + 5), fy(642), "%02d" % (k + 1), fontsize=5.6, weight="bold",
             ha="center", va="center")

# cartouche
fig.add_artist(Rectangle((fx(20), fy(698)), 420 / W, 31 / H, fill=False,
                         edgecolor="black", lw=1.0, transform=fig.transFigure))
fig.text(fx(30), fy(677), "Diagramme des ensembles GEFS sur 384h : 39.9N 0.2W",
         fontsize=8.2, weight="bold", va="center")
fig.text(fx(30), fy(692), "ThetaE 850hPa (°C) , CAPE (J/kg)", fontsize=7.1, va="center")
fig.text(fx(450), fy(672), "Ensemble GEFS du 24/08/2026 - 06Z", fontsize=6.6, va="center")
fig.text(fx(450), fy(692), "Copyright 2026 Meteociel.fr", fontsize=8.2, weight="bold",
         va="center")

fig.savefig("out.png", dpi=100)
